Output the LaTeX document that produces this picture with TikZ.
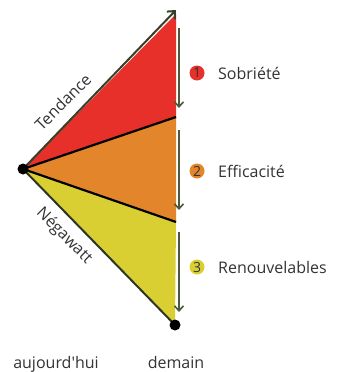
\documentclass[tikz,border=0pt]{standalone}
\usepackage{fontspec}
\setmainfont{Open Sans}
\usetikzlibrary{arrows.meta}
\definecolor{cred}{HTML}{E8302A}
\definecolor{corange}{HTML}{E3852A}
\definecolor{cyellow}{HTML}{D9CF33}
\definecolor{olive}{HTML}{4B5A3A}
\definecolor{txt}{HTML}{333333}
\tikzset{
  lbl/.style={font=\fontsize{16}{18}\selectfont, text=txt, inner sep=0pt},
  num/.style={circle, minimum size=15pt, inner sep=0pt, font=\fontsize{14}{15}\selectfont, text=txt},
  varrow/.style={olive, line width=1.6pt, -{Straight Barb[length=5pt,width=9pt]}},
  split/.style={black, line width=2.2pt},
  dot/.style={circle, fill=black, minimum size=11pt, inner sep=0pt},
}
\begin{document}
\begin{tikzpicture}[x=1pt,y=-1pt]
\useasboundingbox (0,0) rectangle (338,372);
\coordinate (O) at (23,169);
\coordinate (T) at (176,14);
\coordinate (A) at (176,117);
\coordinate (B) at (176,222);
\coordinate (E) at (175,325);
\fill[cred] (O) -- (T) -- (A) -- cycle;
\fill[corange] (O) -- (A) -- (B) -- cycle;
\fill[cyellow] (O) -- (B) -- (E) -- cycle;
\draw[split] (O) -- (A);
\draw[split] (O) -- (B);
\draw[olive!60!black, line width=2pt] (O) -- (E);
\draw[olive!70!black, line width=2pt, -{Straight Barb[length=6pt,width=11pt]}] (O) -- (176,10);
\node[dot] (d0) at (O) {};
\node[dot] (d1) at (E) {};
\coordinate (a1s) at (179,28); \coordinate (a1e) at (179,108);
\coordinate (a2s) at (179,130); \coordinate (a2e) at (179,210);
\coordinate (a3s) at (179,232); \coordinate (a3e) at (179,312);
\draw[varrow] (a1s) -- (a1e);
\draw[varrow] (a2s) -- (a2e);
\draw[varrow] (a3s) -- (a3e);
\node[num, fill=cred] (n1) at (197,73) {1};
\node[num, fill=corange] (n2) at (197,171) {2};
\node[num, fill=cyellow] (n3) at (197,267) {3};
\node[lbl, anchor=west] (t1) at (218,73) {Sobriété};
\node[lbl, anchor=west] (t2) at (218,171) {Efficacité};
\node[lbl, anchor=west] (t3) at (218,267) {Renouvelables};
\node[lbl, rotate=45] (tend) at (63,102) {Tendance};
\node[lbl, rotate=-45] (nega) at (64,236) {Négawatt};
\node[lbl, anchor=base] (auj) at (56,368) {aujourd\textquotesingle hui};
\node[lbl, anchor=base] (dem) at (176,368) {demain};
\end{tikzpicture}
\end{document}
